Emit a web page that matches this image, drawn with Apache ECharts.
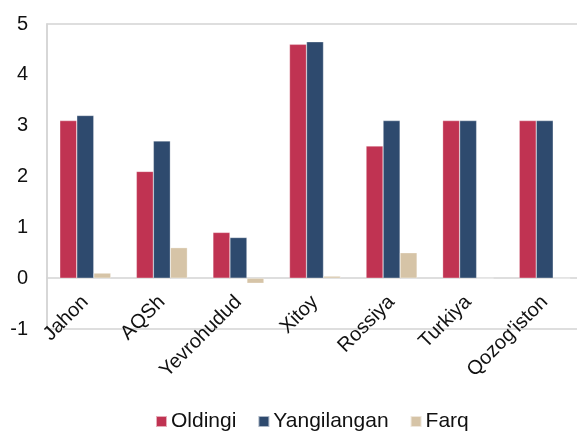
<!DOCTYPE html>
<html><head><meta charset="utf-8">
<script src="https://cdn.jsdelivr.net/npm/echarts@6/dist/echarts.min.js"></script>
<style>html,body{margin:0;padding:0;background:#fff}#c{width:577px;height:434px}</style>
</head><body><div id="c"></div>
<script>
const categories = ["Jahon","AQSh","Yevrohudud","Xitoy","Rossiya","Turkiya","Qozog'iston"];
const oldingi = [3.1, 2.1, 0.9, 4.6, 2.6, 3.1, 3.1];
const yangilangan = [3.2, 2.7, 0.8, 4.65, 3.1, 3.1, 3.1];
const farq = [0.1, 0.6, -0.1, 0.04, 0.5, 0, 0];
const chart = echarts.init(document.getElementById('c'), null, {renderer:'canvas'});
const font = 'Liberation Sans, Arial, sans-serif';
function s(name, data, color){
  return {name, type:'bar', data, barGap:'0%', barCategoryGap:'33.4%',
    itemStyle:{color, borderColor:'rgba(255,255,255,0.6)', borderWidth:0.5}};
}
chart.setOption({
  animation:false,
  textStyle:{fontFamily:font},
  grid:{left:47, width:536, top:24, bottom:105, show:true, borderColor:'#d4d4d4', borderWidth:1.5,
    containLabel:false, outerBoundsMode:'none'},
  legend:{bottom:-3, left:150, itemWidth:11, itemHeight:11, itemGap:21, icon:'rect',
    textStyle:{fontSize:21, color:'#111', fontFamily:font, padding:[0,0,0,-1]},
    data:['Oldingi','Yangilangan','Farq']},
  xAxis:{type:'category', data:categories,
    axisLine:{onZero:true, lineStyle:{color:'#d4d4d4', width:1.5}},
    axisTick:{show:false},
    axisLabel:{rotate:45, fontSize:20, color:'#111', margin:-30, fontFamily:font}},
  yAxis:{type:'value', min:-1, max:5, interval:1,
    splitLine:{show:false},
    axisLine:{show:true, lineStyle:{color:'#d4d4d4', width:1.5}},
    axisTick:{show:false},
    axisLabel:{fontSize:20, color:'#111', margin:19, fontFamily:font, padding:[6,0,0,0]}},
  series:[s('Oldingi', oldingi, '#C03352'), s('Yangilangan', yangilangan, '#2E4A6E'), s('Farq', farq, '#D6C4A7')]
});
</script></body></html>
